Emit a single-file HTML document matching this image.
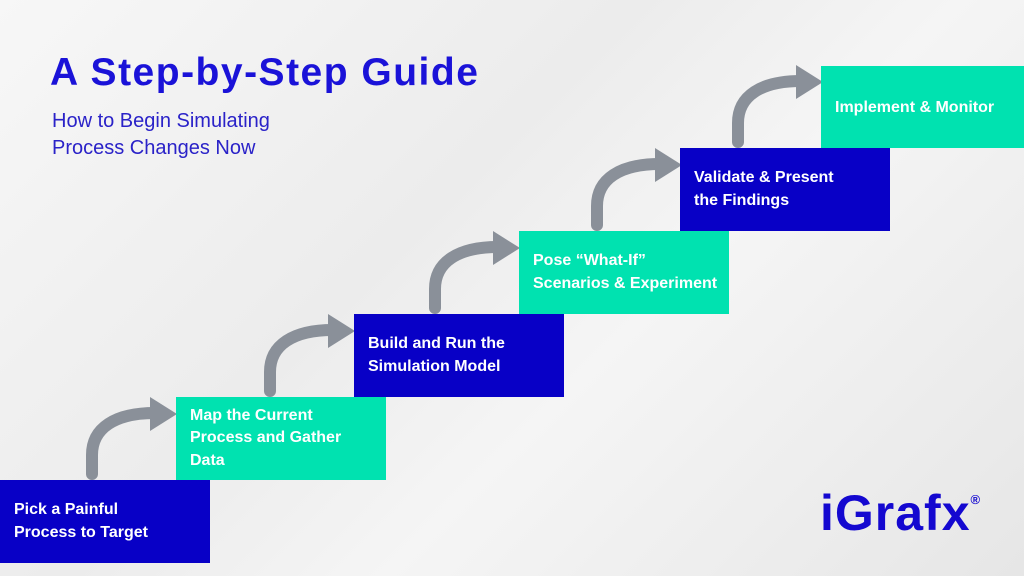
<!DOCTYPE html>
<html><head><meta charset="utf-8"><style>
html,body{margin:0;padding:0}
body{width:1024px;height:576px;position:relative;overflow:hidden;background:linear-gradient(135deg,#f7f7f7 0%,#ececec 40%,#f5f5f5 60%,#e6e6e6 100%);font-family:"Liberation Sans",sans-serif}
.b{position:absolute;height:83px;box-sizing:border-box;color:#fff;font-weight:bold;font-size:16px;line-height:22.5px;display:flex;flex-direction:column;justify-content:center;padding-left:14px}
.bl{background:#0800c6}.tl{background:#00e2b0}
h1{position:absolute;left:50px;top:51px;margin:0;font-size:39px;color:#1a12d8;font-weight:bold;letter-spacing:1.5px}
.sub{position:absolute;left:52px;top:108px;font-size:20px;line-height:27px;color:#2a22c8}
.logo{position:absolute;left:820px;top:484px;font-size:50px;font-weight:bold;color:#1408d0;letter-spacing:1px}
.logo sup{font-size:13px;position:relative;top:-8px}
</style></head><body>
<h1>A Step-by-Step Guide</h1>
<div class="sub">How to Begin Simulating<br>Process Changes Now</div>
<svg width="1024" height="576" style="position:absolute;left:0;top:0">
<g fill="none" stroke="#8a9099" stroke-width="12" stroke-linecap="round">
<path d="M92,474 V455 C92,428 115,413 155,413"/>
<path d="M270,391 V372 C270,345 293,330 333,330"/>
<path d="M435,308 V289 C435,262 458,247 498,247"/>
<path d="M597,225 V206 C597,179 620,164 660,164"/>
<path d="M738,142 V123 C738,96 761,81 801,81"/>
</g>
<g fill="#8a9099">
<polygon points="150,397 177,414 150,431"/>
<polygon points="328,314 355,331 328,348"/>
<polygon points="493,231 520,248 493,265"/>
<polygon points="655,148 682,165 655,182"/>
<polygon points="796,65 823,82 796,99"/>
</g>
</svg>
<div class="b bl" style="left:0;top:480px;width:210px">Pick a Painful<br>Process to Target</div>
<div class="b tl" style="left:176px;top:397px;width:210px">Map the Current<br>Process and Gather<br>Data</div>
<div class="b bl" style="left:354px;top:314px;width:210px">Build and Run the<br>Simulation Model</div>
<div class="b tl" style="left:519px;top:231px;width:210px">Pose “What-If”<br>Scenarios &amp; Experiment</div>
<div class="b bl" style="left:680px;top:148px;width:210px">Validate &amp; Present<br>the Findings</div>
<div class="b tl" style="left:821px;top:66px;width:203px;height:82px;padding-top:2px">Implement &amp; Monitor</div>
<div class="logo">iGrafx<sup>®</sup></div>
</body></html>
